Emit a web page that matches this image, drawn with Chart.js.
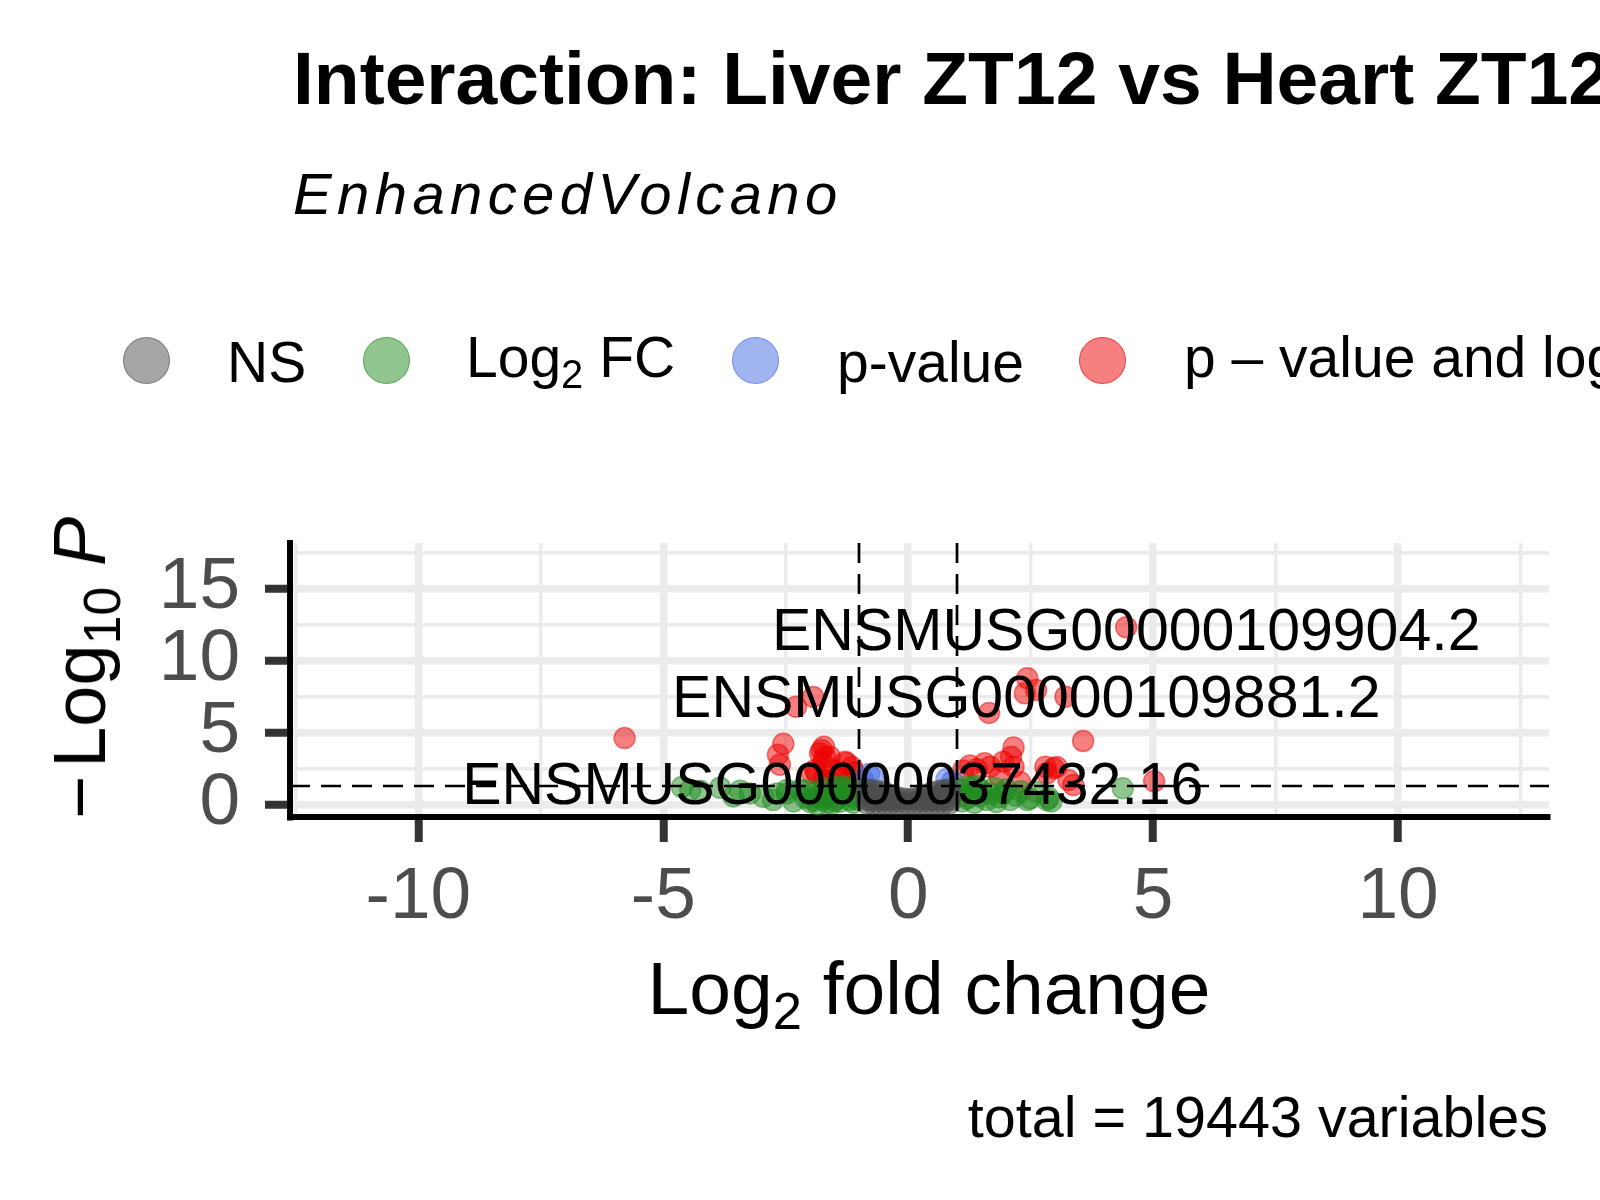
<!DOCTYPE html>
<html>
<head>
<meta charset="utf-8">
<title>Interaction: Liver ZT12 vs Heart ZT12</title>
<script src="https://cdn.jsdelivr.net/npm/chart.js@4.4.1/dist/chart.umd.min.js"></script>
<style>
  html, body { margin: 0; padding: 0; background: #fff; }
  #page { position: relative; width: 1600px; height: 1200px; overflow: hidden;
          font-family: "Liberation Sans", Arial, Helvetica, sans-serif; color: #000; }
  #chart { position: absolute; left: 0; top: 0; }
  .txt { position: absolute; white-space: nowrap; line-height: 1; }
  .sub { font-size: 0.7em; position: relative; top: 0.28em; }
  .dot { position: absolute; width: 47px; height: 47px; border-radius: 50%;
         border: 1.5px solid; box-sizing: border-box; }
</style>
</head>
<body>
<div id="page">
  <canvas id="chart" width="1600" height="1200"></canvas>

  <div class="txt" style="left:293px;top:41px;font-size:75px;font-weight:bold;">Interaction: Liver ZT12 vs Heart ZT12</div>
  <div class="txt" style="left:293px;top:165px;font-size:58px;font-style:italic;letter-spacing:5.4px;">EnhancedVolcano</div>

  <div id="legend"></div>

  <div class="txt" style="left:80px;top:668px;font-size:74px;transform:translate(-50%,-50%) rotate(-90deg);"><span style="margin-right:8px;">&minus;</span>Log<span class="sub">10</span> <i>P</i></div>
  <div class="txt" style="left:929px;top:951px;font-size:75px;transform:translateX(-50%);">Log<span class="sub">2</span> fold change</div>
  <div class="txt" style="right:52px;top:1089px;font-size:57.5px;">total = 19443 variables</div>

  <div id="labels"></div>
</div>
<script>
// axis ranges and ticks
var xRange = [-12.62, 13.08];
var yRange = [-0.88, 18.15];
var xTickValues = [-10, -5, 0, 5, 10];
var xTickLabels = ['-10', '-5', '0', '5', '10'];
var yTickValues = [0, 5, 10, 15];
var yTickLabels = ['0', '5', '10', '15'];

// cutoffs: log2 FC = +-1, p = 0.05
var fcCutoff = [-1, 1];
var pCutoff = 1.30103;

// NS (grey)
var nsPoints = [
  [-0.84,0.05],[-0.84,0.3],[-0.84,0.55],[-0.84,0.8],[-0.84,1.05],
  [-0.72,0.05],[-0.72,0.3],[-0.72,0.55],[-0.72,0.8],[-0.72,1.0],
  [-0.6,0.05],[-0.6,0.3],[-0.6,0.55],[-0.6,0.9],
  [-0.48,0.05],[-0.48,0.3],[-0.48,0.55],[-0.48,0.8],
  [-0.36,0.05],[-0.36,0.3],[-0.36,0.65],
  [-0.24,0.05],[-0.24,0.3],[-0.24,0.5],
  [-0.12,0.05],[-0.12,0.4],
  [0,0.05],[0,0.35],
  [0.12,0.05],[0.12,0.4],
  [0.24,0.05],[0.24,0.3],[0.24,0.5],
  [0.36,0.05],[0.36,0.3],[0.36,0.65],
  [0.48,0.05],[0.48,0.3],[0.48,0.55],[0.48,0.8],
  [0.6,0.05],[0.6,0.3],[0.6,0.55],[0.6,0.9],
  [0.72,0.05],[0.72,0.3],[0.72,0.55],[0.72,0.8],[0.72,1.0],
  [0.84,0.05],[0.84,0.3],[0.84,0.55],[0.84,0.8],[0.84,1.05]
];
// Log2 FC only (green)
var fcPoints = [
  [-4.62,1.2],[-4.45,1.0],[-4.25,0.95],[-3.84,1.15],[-3.57,0.55],[-3.43,0.95],
  [-3.23,0.76],[-2.96,0.53],[-2.76,0.3],[-2.68,0.76],[-2.48,0.99],[-2.48,0.76],
  [-2.34,0.2],[-2.21,0.99],[-2.1,0.45],[-2.07,0.99],[-2.0,0.15],[-1.94,0.3],
  [-1.94,0.76],[-1.9,0.55],[-1.85,0.0],[-1.8,0.5],[-1.75,0.3],[-1.73,1.15],
  [-1.7,0.6],[-1.65,0.1],[-1.6,0.53],[-1.6,0.8],[-1.55,0.05],[-1.53,0.99],
  [-1.5,0.25],[-1.46,1.11],[-1.45,0.4],[-1.4,1.25],[-1.39,0.18],[-1.35,0.6],
  [-1.3,0.8],[-1.26,0.99],[-1.26,1.22],[-1.2,0.3],[-1.15,0.53],[-1.12,0.1],
  [-1.1,1.0],[-1.1,0.7],[-1.05,0.35],
  [1.1,0.2],[1.1,0.6],[1.1,1.0],[1.2,0.4],[1.2,1.25],[1.25,0.8],[1.3,1.2],
  [1.35,0.1],[1.4,1.25],[1.45,0.55],[1.5,0.95],[1.6,0.3],[1.65,0.75],[1.75,1.15],
  [1.8,0.15],[1.85,0.5],[1.94,0.76],[2.0,1.05],[2.08,0.3],[2.2,0.6],[2.3,0.9],
  [2.43,0.3],[2.49,0.41],[2.59,0.88],[2.83,0.3],[2.87,0.44],[2.92,0.2],[4.38,1.11]
];
// p-value only (blue)
var pPoints = [
  [-0.92,1.7],[-0.8,2.1],[-0.72,1.85],[0.78,1.75],[0.9,1.6]
];
// p-value and log2 FC (red)
var bothPoints = [
  [-5.79,4.6],[-2.29,6.77],[-1.94,7.46],[-2.55,4.2],[-2.66,3.45],[-2.62,2.75],
  [-1.77,3.77],[-1.72,4.0],[-1.7,3.31],[-1.8,3.54],[-1.74,2.87],[-1.6,3.31],
  [-1.53,2.38],[-1.29,2.96],[-1.26,2.87],[-1.15,2.6],[-1.87,2.17],[-1.97,2.15],
  [-1.9,2.38],[-1.39,2.03],[-1.73,1.69],[-1.46,1.92],[-1.1,2.2],[-1.2,1.75],
  [-1.55,1.5],
  [4.45,12.3],[2.43,8.76],[2.38,7.71],[2.61,7.94],[3.21,7.47],[1.65,6.35],
  [3.57,4.4],[2.15,3.95],[2.1,3.31],[1.94,2.96],[2.15,2.61],[1.26,2.7],
  [1.4,2.45],[1.56,2.85],[1.67,2.61],[2.8,2.61],[2.97,2.5],[3.03,2.6],
  [2.83,2.15],[3.27,1.69],[3.37,1.34],[5.02,1.6],[1.87,1.92],[2.28,1.55],
  [1.12,2.35]
];

// gene labels (text centre in data units)
var geneLabels = ['ENSMUSG00000109904.2', 'ENSMUSG00000109881.2', 'ENSMUSG00000037432.16'];
var geneLabelX = [4.45, 2.41, -1.54];
var geneLabelY = [12.13, 7.45, 1.43];

var legendNames = ['NS', 'Log<span class="sub">2</span> FC', 'p-value', 'p &ndash; value and log<span class="sub">2</span> FC'];
var seriesColors = ['rgba(77,77,77,0.5)', 'rgba(34,139,34,0.5)', 'rgba(65,105,225,0.5)', 'rgba(238,0,0,0.5)'];

// legend layout
var legendDotX = [146, 386, 755, 1102];
var legendTextX = [227, 466, 837, 1184];
var legendTextTop = [334, 329, 334, 329];

var legend = document.getElementById('legend');
for (var i = 0; i < legendNames.length; i++) {
  var d = document.createElement('div');
  d.className = 'dot';
  d.style.left = (legendDotX[i] - 23.5) + 'px';
  d.style.top = '336.5px';
  d.style.background = seriesColors[i];
  d.style.borderColor = seriesColors[i];
  legend.appendChild(d);
  var t = document.createElement('div');
  t.className = 'txt';
  t.style.left = legendTextX[i] + 'px';
  t.style.top = legendTextTop[i] + 'px';
  t.style.fontSize = '57px';
  t.innerHTML = legendNames[i];
  legend.appendChild(t);
}

function toXY(list) {
  return list.map(function (p) { return { x: p[0], y: p[1] }; });
}
function isMajor(v) {
  return Math.abs(v / 5 - Math.round(v / 5)) < 1e-6;
}
function tickText(values, labels) {
  return function (v) {
    for (var k = 0; k < values.length; k++) {
      if (Math.abs(values[k] - v) < 1e-6) return labels[k];
    }
    return '';
  };
}

var cutoffLines = {
  id: 'cutoffLines',
  afterDatasetsDraw: function (chart) {
    var ctx = chart.ctx, a = chart.chartArea;
    var xs = chart.scales.x, ys = chart.scales.y;
    ctx.save();
    ctx.beginPath();
    ctx.rect(a.left, a.top, a.right - a.left, a.bottom - a.top);
    ctx.clip();
    ctx.strokeStyle = '#000';
    ctx.lineWidth = 2.7;
    ctx.setLineDash([20, 11]);
    fcCutoff.forEach(function (c) {
      var px = Math.round(xs.getPixelForValue(c));
      ctx.beginPath();
      ctx.moveTo(px, a.top);
      ctx.lineTo(px, a.bottom);
      ctx.stroke();
    });
    var py = Math.round(ys.getPixelForValue(pCutoff));
    ctx.beginPath();
    ctx.moveTo(a.left, py);
    ctx.lineTo(a.right, py);
    ctx.stroke();
    ctx.restore();
  }
};

var tickFont = { family: '"Liberation Sans", Arial, sans-serif', size: 73 };

function axisOpts(range, values, labels, pad) {
  return {
    type: 'linear',
    min: range[0],
    max: range[1],
    ticks: {
      stepSize: 2.5,
      includeBounds: false,
      autoSkip: false,
      maxRotation: 0,
      padding: pad,
      color: '#4D4D4D',
      font: tickFont,
      callback: tickText(values, labels)
    },
    grid: {
      color: '#EBEBEB',
      lineWidth: function (c) { return c.tick && isMajor(c.tick.value) ? 7.5 : 3.5; },
      tickLength: 25,
      tickWidth: 8,
      tickColor: function (c) { return c.tick && isMajor(c.tick.value) ? '#333333' : 'rgba(0,0,0,0)'; }
    },
    border: { display: true, color: '#000', width: 6 }
  };
}

var xOpts = axisOpts(xRange, xTickValues, xTickLabels, 12);
xOpts.afterFit = function (s) { s.height = 383; };
var yOpts = axisOpts(yRange, yTickValues, yTickLabels, 25);
yOpts.afterFit = function (s) { s.width = 290; };

function series(name, pts, color) {
  return {
    label: name,
    data: toXY(pts),
    backgroundColor: color,
    borderColor: color,
    borderWidth: 1.5,
    pointRadius: 10.5,
    pointHoverRadius: 10.5
  };
}

var chart = new Chart(document.getElementById('chart').getContext('2d'), {
  type: 'scatter',
  data: {
    datasets: [
      series('NS', nsPoints, seriesColors[0]),
      series('Log2 FC', fcPoints, seriesColors[1]),
      series('p-value', pPoints, seriesColors[2]),
      series('p - value and log2 FC', bothPoints, seriesColors[3])
    ]
  },
  options: {
    responsive: false,
    animation: false,
    devicePixelRatio: 1,
    layout: { padding: { left: 0, top: 543, right: 51, bottom: 0 } },
    plugins: {
      legend: { display: false },
      tooltip: { enabled: false },
      title: { display: false }
    },
    scales: { x: xOpts, y: yOpts }
  },
  plugins: [cutoffLines]
});

// gene labels placed through the chart scales
var labelBox = document.getElementById('labels');
for (var j = 0; j < geneLabels.length; j++) {
  var lab = document.createElement('div');
  lab.className = 'txt';
  lab.style.fontSize = '59px';
  lab.style.left = chart.scales.x.getPixelForValue(geneLabelX[j]) + 'px';
  lab.style.top = chart.scales.y.getPixelForValue(geneLabelY[j]) + 'px';
  lab.style.transform = 'translate(-50%,-50%)';
  lab.textContent = geneLabels[j];
  labelBox.appendChild(lab);
}
</script>
</body>
</html>
